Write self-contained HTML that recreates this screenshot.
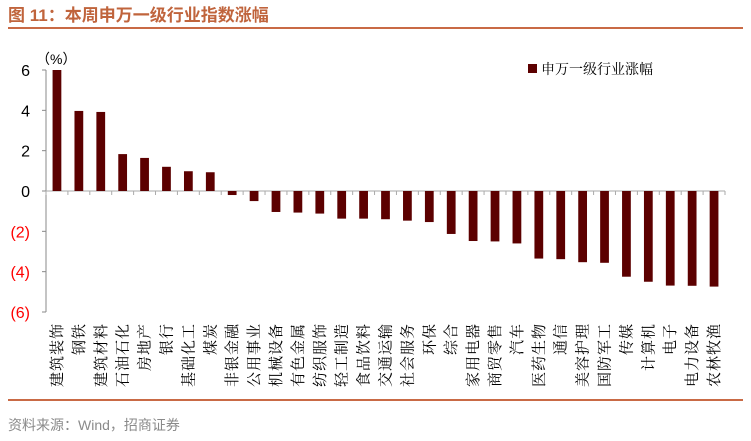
<!DOCTYPE html>
<html><head><meta charset="utf-8"><style>
body{margin:0;background:#fff;width:751px;height:436px;overflow:hidden;font-family:"Liberation Sans","Noto Sans CJK SC",sans-serif}
</style></head><body>
<svg width="751" height="436" xmlns="http://www.w3.org/2000/svg">
<text x="8" y="21" font-size="17" font-weight="bold" fill="#c0643c" font-family="Liberation Sans, Noto Sans CJK SC, sans-serif">图 11：本周申万一级行业指数涨幅</text>
<rect x="8" y="27" width="735" height="2" fill="#c96a45"/>
<rect x="8" y="399" width="735" height="2" fill="#c96a45"/>
<text x="8" y="430" font-size="14" fill="#8a8a8a" font-family="Liberation Sans, Noto Sans CJK SC, sans-serif">资料来源：Wind，招商证券</text>
<text x="36" y="64" font-size="14" fill="#000">（%）</text>
<rect x="528" y="64" width="9" height="9" fill="#5c0000"/>
<text x="541" y="74" font-size="14" fill="#000" font-family="Noto Serif CJK SC, serif">申万一级行业涨幅</text>
<g id="plot"></g>
</svg>
<script>
const categories=["建筑装饰","钢铁","建筑材料","石油石化","房地产","银行","基础化工","煤炭","非银金融","公用事业","机械设备","有色金属","纺织服饰","轻工制造","食品饮料","交通运输","社会服务","环保","综合","家用电器","商贸零售","汽车","医药生物","通信","美容护理","国防军工","传媒","计算机","电子","电力设备","农林牧渔"];
const values=[6.0,3.97,3.92,1.83,1.64,1.2,0.98,0.93,-0.2,-0.5,-1.04,-1.07,-1.12,-1.37,-1.37,-1.4,-1.47,-1.54,-2.13,-2.48,-2.5,-2.6,-3.35,-3.38,-3.53,-3.56,-4.25,-4.5,-4.69,-4.7,-4.74];
const yTicks=[6,4,2,0,-2,-4,-6];
const yTickLabels=["6","4","2","0","(2)","(4)","(6)"];
const NS="http://www.w3.org/2000/svg";
const g=document.getElementById('plot');
const x0=46,x1=725,yTop=70,yBot=312,vMax=6,vMin=-6;
const y=v=>yTop+(vMax-v)/(vMax-vMin)*(yBot-yTop);
const n=categories.length,step=(x1-x0)/n;
const xc=i=>x0+step*(i+0.5);
function el(t,a){const e=document.createElementNS(NS,t);for(const k in a)e.setAttribute(k,a[k]);g.appendChild(e);return e;}
const ax=el('line',{x1:x0,y1:yTop,x2:x0,y2:yBot,stroke:'#888'});


yTicks.forEach((v,i)=>{
 const t=el('line',{x1:x0-4,y1:y(v),x2:x0,y2:y(v),stroke:'#888'});
 
 
 const l=el('text',{x:30,y:y(v)+6,'font-size':16,'text-anchor':'end',fill:v<0?'#ff0000':'#000'});
 l.textContent=yTickLabels[i];
 
 
});
const xa=el('line',{x1:x0,y1:y(0),x2:x1,y2:y(0),stroke:'#aaa'});


for(let i=0;i<=n;i++){
 const t=el('line',{x1:x0+step*i,y1:y(0),x2:x0+step*i,y2:y(0)+4,stroke:'#aaa'});
 
 
}
const bw=step*0.4;
values.forEach((v,i)=>{
 const r=el('rect',{x:xc(i)-bw/2,y:Math.min(y(v),y(0)),width:bw,height:Math.abs(y(v)-y(0)),fill:'#5c0000'});
 
 
 const lx=xc(i)+5,ly=323;
 const lab=el('text',{x:lx,y:ly,'font-size':15,'text-anchor':'end','letter-spacing':'1',transform:`rotate(-90 ${lx} ${ly})`,fill:'#000','font-family':'Noto Serif CJK SC, serif'});
 lab.textContent=categories[i];
 
 
});
</script>
</body></html>
